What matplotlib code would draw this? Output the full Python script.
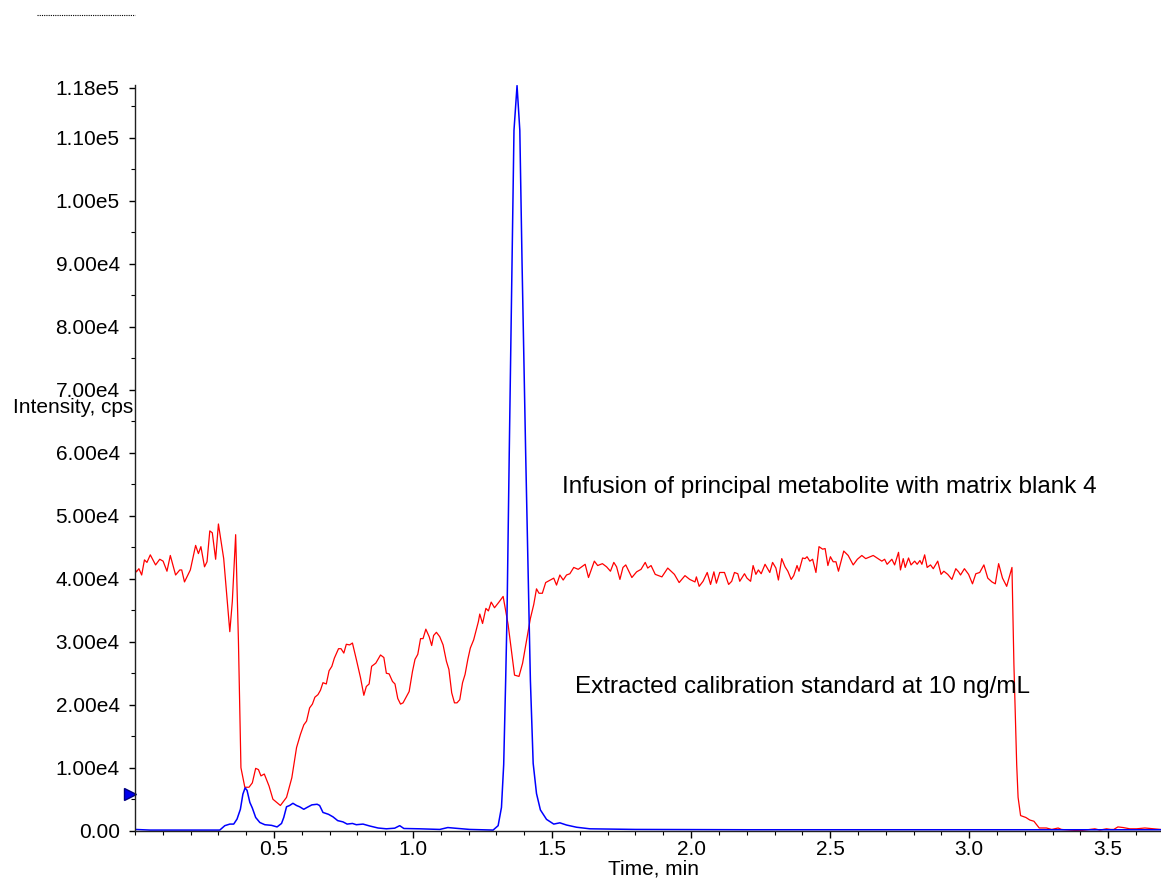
import matplotlib
matplotlib.use("Agg")
import matplotlib.pyplot as plt
from matplotlib.ticker import MultipleLocator, FixedLocator
from matplotlib.transforms import blended_transform_factory

plt.rcParams['font.family'] = ['Liberation Sans', 'DejaVu Sans']

# infusion trace (red), time in min, intensity in 1000 cps
red_t = [0.000, 0.005, 0.014, 0.024, 0.034, 0.043, 0.055, 0.074, 0.089, 0.101,
         0.115, 0.127, 0.146, 0.161, 0.168, 0.178, 0.199, 0.218, 0.228, 0.237,
         0.250, 0.259, 0.269, 0.278, 0.290, 0.300, 0.319, 0.341, 0.350, 0.362,
         0.372, 0.381, 0.395, 0.410, 0.422, 0.434, 0.444, 0.453, 0.465, 0.482,
         0.496, 0.523, 0.545, 0.564, 0.581, 0.595, 0.607, 0.617, 0.628, 0.638,
         0.647, 0.658, 0.667, 0.676, 0.688, 0.698, 0.708, 0.717, 0.732, 0.741,
         0.751, 0.760, 0.772, 0.782, 0.796, 0.811, 0.823, 0.832, 0.842, 0.851,
         0.866, 0.883, 0.895, 0.904, 0.914, 0.926, 0.935, 0.945, 0.955, 0.964,
         0.986, 0.998, 1.007, 1.017, 1.027, 1.036, 1.046, 1.058, 1.067, 1.074,
         1.084, 1.096, 1.108, 1.120, 1.129, 1.139, 1.149, 1.158, 1.168, 1.178,
         1.187, 1.197, 1.206, 1.218, 1.235, 1.240, 1.250, 1.262, 1.271, 1.281,
         1.293, 1.309, 1.324, 1.342, 1.354, 1.365, 1.381, 1.394, 1.408, 1.422,
         1.434, 1.444, 1.453, 1.465, 1.477, 1.494, 1.506, 1.516, 1.528, 1.540,
         1.552, 1.564, 1.578, 1.594, 1.619, 1.631, 1.652, 1.664, 1.681, 1.696,
         1.710, 1.722, 1.732, 1.744, 1.755, 1.765, 1.787, 1.804, 1.820, 1.835,
         1.844, 1.856, 1.871, 1.895, 1.916, 1.940, 1.957, 1.978, 1.995, 2.014,
         2.019, 2.029, 2.043, 2.058, 2.070, 2.082, 2.091, 2.103, 2.120, 2.135,
         2.146, 2.156, 2.168, 2.175, 2.192, 2.201, 2.214, 2.223, 2.233, 2.242,
         2.252, 2.266, 2.283, 2.293, 2.305, 2.314, 2.326, 2.338, 2.348, 2.360,
         2.369, 2.381, 2.388, 2.401, 2.410, 2.417, 2.427, 2.437, 2.449, 2.460,
         2.473, 2.482, 2.492, 2.501, 2.511, 2.521, 2.530, 2.549, 2.565, 2.583,
         2.598, 2.614, 2.628, 2.655, 2.669, 2.686, 2.696, 2.705, 2.722, 2.732,
         2.746, 2.753, 2.763, 2.770, 2.782, 2.791, 2.804, 2.813, 2.823, 2.830,
         2.840, 2.849, 2.861, 2.871, 2.887, 2.899, 2.909, 2.923, 2.938, 2.952,
         2.962, 2.969, 2.983, 2.998, 3.012, 3.024, 3.038, 3.053, 3.067, 3.082,
         3.094, 3.106, 3.120, 3.135, 3.154, 3.161, 3.171, 3.176, 3.185, 3.204,
         3.218, 3.233, 3.252, 3.278, 3.297, 3.320, 3.332, 3.362, 3.398, 3.434,
         3.452, 3.470, 3.494, 3.509, 3.520, 3.535, 3.554, 3.578, 3.602, 3.632,
         3.662, 3.689]
red_v = [41.5, 41.1, 41.6, 40.6, 43.0, 42.6, 43.8, 42.2, 43.1, 42.8,
         41.2, 43.7, 40.6, 41.4, 41.4, 39.5, 41.4, 45.3, 44.0, 45.1,
         41.9, 42.7, 47.6, 47.3, 43.1, 48.7, 43.2, 31.6, 36.4, 47.0,
         30.1, 10.0, 6.9, 6.9, 7.6, 9.9, 9.7, 8.7, 9.0, 7.1,
         5.0, 4.0, 5.3, 8.4, 13.2, 15.3, 16.8, 17.4, 19.5, 20.1,
         21.2, 21.6, 22.3, 23.5, 23.3, 25.4, 26.1, 27.4, 28.9, 28.9,
         28.2, 29.6, 29.5, 29.8, 27.2, 24.3, 21.5, 22.9, 23.3, 26.1,
         26.6, 27.9, 27.5, 25.0, 24.9, 23.7, 23.3, 21.0, 20.1, 20.3,
         22.1, 25.3, 27.2, 28.0, 30.5, 30.5, 32.0, 30.8, 29.4, 31.0,
         31.5, 30.8, 29.5, 26.9, 25.6, 21.9, 20.3, 20.3, 20.8, 23.5,
         24.8, 27.2, 29.0, 30.3, 33.2, 34.4, 32.9, 35.3, 34.9, 36.3,
         35.4, 36.3, 37.2, 32.7, 28.5, 24.7, 24.5, 26.6, 30.1, 33.7,
         35.9, 38.4, 37.7, 37.7, 39.4, 39.8, 40.1, 39.0, 40.6, 39.8,
         40.6, 40.8, 41.8, 41.5, 42.3, 40.2, 42.8, 42.1, 42.4, 41.9,
         41.2, 42.6, 41.9, 39.9, 41.8, 42.2, 40.2, 41.1, 41.5, 42.6,
         41.7, 42.1, 40.7, 40.3, 41.7, 40.7, 39.4, 40.5, 39.9, 39.5,
         40.3, 38.8, 39.6, 41.0, 39.1, 41.1, 39.3, 41.0, 41.0, 39.1,
         39.6, 41.0, 40.8, 39.6, 40.8, 40.1, 39.6, 42.1, 40.7, 41.4,
         40.8, 42.3, 41.0, 42.6, 41.7, 39.8, 43.2, 41.9, 41.2, 39.9,
         40.5, 42.1, 41.2, 43.3, 43.2, 43.5, 42.8, 43.1, 41.0, 45.1,
         44.7, 44.8, 42.1, 43.5, 42.7, 42.7, 41.2, 44.4, 43.7, 42.2,
         43.1, 43.7, 43.2, 43.7, 43.3, 42.8, 43.1, 42.3, 43.1, 42.2,
         44.2, 41.4, 43.2, 41.8, 43.3, 42.2, 42.8, 42.3, 42.9, 42.3,
         43.8, 41.8, 42.2, 41.6, 42.8, 40.7, 41.2, 40.7, 39.9, 41.6,
         41.1, 40.6, 41.6, 40.7, 39.2, 40.8, 41.0, 42.2, 40.1, 39.5,
         39.2, 42.4, 40.1, 38.8, 41.8, 26.4, 10.5, 5.3, 2.4, 2.1,
         1.7, 1.5, 0.43, 0.43, 0.2, 0.43, 0.2, 0.1, 0.0, 0.2,
         0.3, 0.1, 0.3, 0.2, 0.2, 0.6, 0.5, 0.3, 0.3, 0.43,
         0.3, 0.2]

# extracted calibration standard (blue)
blue_t = [0.000, 0.053, 0.233, 0.305, 0.323, 0.341, 0.355, 0.367, 0.379, 0.388,
          0.396, 0.403, 0.413, 0.422, 0.434, 0.449, 0.467, 0.491, 0.511, 0.527,
          0.535, 0.545, 0.556, 0.568, 0.581, 0.592, 0.607, 0.619, 0.636, 0.655,
          0.664, 0.676, 0.696, 0.712, 0.729, 0.748, 0.763, 0.782, 0.796, 0.820,
          0.844, 0.874, 0.904, 0.934, 0.952, 0.967, 1.024, 1.096, 1.125, 1.150,
          1.204, 1.288, 1.306, 1.318, 1.326, 1.333, 1.338, 1.346, 1.356, 1.363,
          1.374, 1.384, 1.392, 1.405, 1.417, 1.422, 1.432, 1.444, 1.458, 1.480,
          1.506, 1.528, 1.552, 1.588, 1.636, 1.800, 2.200, 2.600, 3.000, 3.400,
          3.689]
blue_v = [0.2, 0.1, 0.1, 0.1, 0.8, 1.05, 1.05, 1.85, 3.4, 5.8,
          6.8, 6.4, 4.5, 3.6, 2.1, 1.3, 0.95, 0.85, 0.6, 1.15,
          2.1, 3.8, 4.0, 4.35, 4.0, 3.8, 3.4, 3.7, 4.1, 4.2,
          4.0, 2.9, 2.6, 2.2, 1.6, 1.4, 1.05, 1.15, 0.95, 1.05,
          0.75, 0.43, 0.3, 0.4, 0.8, 0.35, 0.3, 0.2, 0.5, 0.4,
          0.2, 0.1, 0.8, 3.7, 10.5, 23.7, 34.3, 60.0, 90.2, 111.2,
          118.3, 111.2, 90.2, 60.0, 34.4, 23.9, 10.7, 5.9, 3.3, 1.8,
          1.05, 1.25, 0.9, 0.55, 0.3, 0.2, 0.15, 0.15, 0.15, 0.15,
          0.15]

y_ticks = [0, 10000, 20000, 30000, 40000, 50000, 60000, 70000, 80000, 90000,
           100000, 110000, 118000]
y_labels = ['0.00', '1.00e4', '2.00e4', '3.00e4', '4.00e4', '5.00e4', '6.00e4',
            '7.00e4', '8.00e4', '9.00e4', '1.00e5', '1.10e5', '1.18e5']
x_ticks = [0.5, 1.0, 1.5, 2.0, 2.5, 3.0, 3.5]
marker_level = 5900

fig = plt.figure(figsize=(11.61, 8.8), dpi=100)
ax = fig.add_axes([135 / 1161, 1 - 830.7 / 880, 1 - 135 / 1161, (830.7 - 85) / 880])

ax.plot(red_t, [v * 1000 for v in red_v], color='#ff0000', lw=0.9)
ax.plot(blue_t, [v * 1000 for v in blue_v], color='#0000ff', lw=1.1)

ax.set_xlim(0, 3.69)
ax.set_ylim(0, 118400)

for s in ['top', 'right']:
    ax.spines[s].set_visible(False)
for s in ['left', 'bottom']:
    ax.spines[s].set_linewidth(1.0)
    ax.spines[s].set_color('#202020')

ax.xaxis.set_major_locator(FixedLocator(x_ticks))
ax.xaxis.set_minor_locator(MultipleLocator(0.1))
ax.set_xticklabels([str(x) for x in x_ticks])
ax.yaxis.set_major_locator(FixedLocator(y_ticks))
ax.yaxis.set_minor_locator(MultipleLocator(5000))
ax.set_yticklabels(y_labels)

ax.tick_params(axis='x', which='major', length=5, width=1, pad=2, labelsize=15)
ax.tick_params(axis='x', which='minor', length=3, width=0.8)
ax.tick_params(axis='y', which='major', length=4, width=1, pad=7, labelsize=15)
ax.tick_params(axis='y', which='minor', length=3, width=0.8)

# blue marker on the y axis
trans = blended_transform_factory(ax.transAxes, ax.transData)
ax.plot([-0.0045], [marker_level], marker='>', markersize=9, color='#0000ee',
        markeredgecolor='#000080', transform=trans, clip_on=False)

ax.text(1.535, 54600, 'Infusion of principal metabolite with matrix blank 4',
        fontsize=17.5, ha='left', va='center')
ax.text(1.582, 22800, 'Extracted calibration standard at 10 ng/mL',
        fontsize=17.5, ha='left', va='center')

fig.text(133 / 1161, 1 - 407 / 880, 'Intensity, cps', fontsize=15,
         ha='right', va='center')
fig.text(653 / 1161, 1 - 869 / 880, 'Time, min', fontsize=15,
         ha='center', va='center')

# dotted line in the top left corner
fig.add_artist(plt.Line2D([37 / 1161, 135 / 1161], [1 - 15 / 880, 1 - 15 / 880],
                          color='black', lw=0.8, ls=(0, (1, 1))))

fig.savefig('out.png', dpi=100)
